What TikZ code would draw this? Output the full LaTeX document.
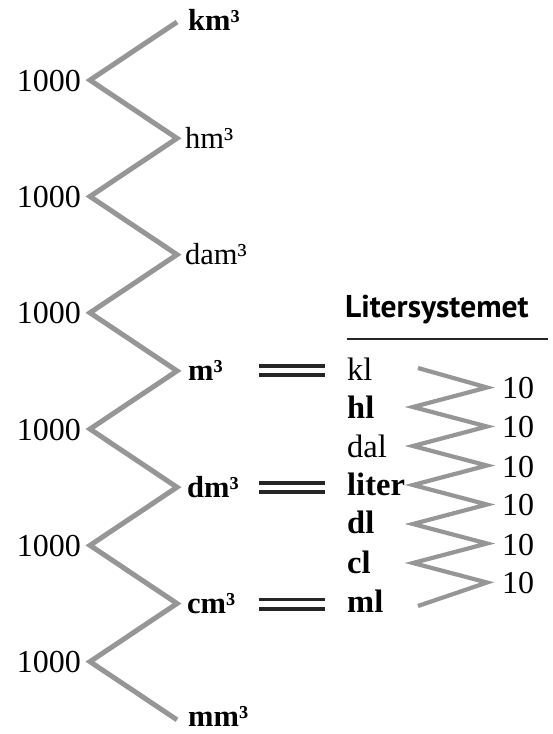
\documentclass[tikz,border=0pt]{standalone}
\usepackage{fontspec}
\setmainfont{Liberation Serif}
\newfontfamily\headfont{PT Sans}
\tikzset{
  zig/.style={draw=zgray, line width=5pt, line join=miter},
  smallzig/.style={draw=zgray, line width=4.2pt, line join=miter},
  num/.style={font=\fontsize{32}{32}\selectfont, anchor=base east, inner sep=0pt},
  unit/.style={font=\fontsize{30.5}{30.5}\selectfont, anchor=base west, inner sep=0pt},
  lit/.style={font=\fontsize{32.5}{32.5}\selectfont, anchor=base west, inner sep=0pt},
  ten/.style={font=\fontsize{32}{32}\selectfont, anchor=base west, inner sep=0pt},
  eqline/.style={draw=black!85, line width=3.8pt},
}
\definecolor{zgray}{RGB}{150,150,150}
\begin{document}
\begin{tikzpicture}[x=1pt,y=-1pt]
\useasboundingbox (0,0) rectangle (553,734);
% main zigzag coordinates
\foreach \k in {0,...,6} {
  \coordinate (R\k) at (177,{22+116.3*\k});
}
\foreach \k in {1,...,6} {
  \coordinate (L\k) at (90,{22+116.3*\k-58.15});
}
\draw[zig] (R0) -- (L1) -- (R1) -- (L2) -- (R2) -- (L3) -- (R3) -- (L4) -- (R4) -- (L5) -- (R5) -- (L6) -- (R6);
% 1000 labels
\foreach \k in {1,...,6} {
  \node[num] (n\k) at ([xshift=-9pt,yshift=-11pt]L\k) {1000};
}
% unit labels
\node[unit] (km) at ([xshift=11pt,yshift=-8pt]R0) {\textbf{km³}};
\node[unit] (hm) at ([xshift=8pt,yshift=-10pt]R1) {hm³};
\node[unit] (dam) at ([xshift=8pt,yshift=-10pt]R2) {dam³};
\node[unit] (m) at ([xshift=11pt,yshift=-10pt]R3) {\textbf{m³}};
\node[unit] (dm) at ([xshift=10pt,yshift=-10pt]R4) {\textbf{dm³}};
\node[unit] (cm) at ([xshift=10pt,yshift=-10pt]R5) {\textbf{cm³}};
\node[unit] (mm) at ([xshift=11pt,yshift=-7pt]R6) {\textbf{mm³}};
% equal signs
\foreach \y/\n in {370.5/a,487.5/b,604/c} {
  \coordinate (e\n1) at (259,\y-4.6);
  \coordinate (e\n2) at (325,\y-4.6);
  \coordinate (e\n3) at (259,\y+4.6);
  \coordinate (e\n4) at (325,\y+4.6);
  \draw[eqline] (e\n1) -- (e\n2);
  \draw[eqline] (e\n3) -- (e\n4);
}
% heading
\node[font=\headfont\bfseries\fontsize{31.5}{31.5}\selectfont, anchor=base west, inner sep=0pt] (head) at (345,317) {Litersystemet};
\coordinate (ruleA) at (347,339);
\coordinate (ruleB) at (548,339);
\draw[line width=1.4pt, black!85] (ruleA) -- (ruleB);
% liter labels
\node[lit] (kl) at (347,380) {kl};
\node[lit] (hl) at (347,418) {\textbf{hl}};
\node[lit] (dal) at (347,457) {dal};
\node[lit] (liter) at (347,495) {\textbf{liter}};
\node[lit] (dl) at (347,533) {\textbf{dl}};
\node[lit] (cl) at (347,573) {\textbf{cl}};
\node[lit] (ml) at (347,612) {\textbf{ml}};
% small zigzag
\coordinate (s0) at (418,368);
\coordinate (s12) at (418,606);
\foreach \k in {1,3,5,7,9,11} {
  \coordinate (s\k) at (487,{368+19.5*\k});
}
\foreach \k in {2,4,6,8,10} {
  \coordinate (s\k) at (413,{368+19.5*\k});
}
\draw[smallzig] (s0) -- (s1) -- (s2) -- (s3) -- (s4) -- (s5) -- (s6) -- (s7) -- (s8) -- (s9) -- (s10) -- (s11) -- (s12);
% 10 labels
\foreach \y/\i in {398/1,437/2,477/3,515/4,555/5,593/6} {
  \node[ten] (t\i) at (502,\y) {10};
}
\end{tikzpicture}
\end{document}
